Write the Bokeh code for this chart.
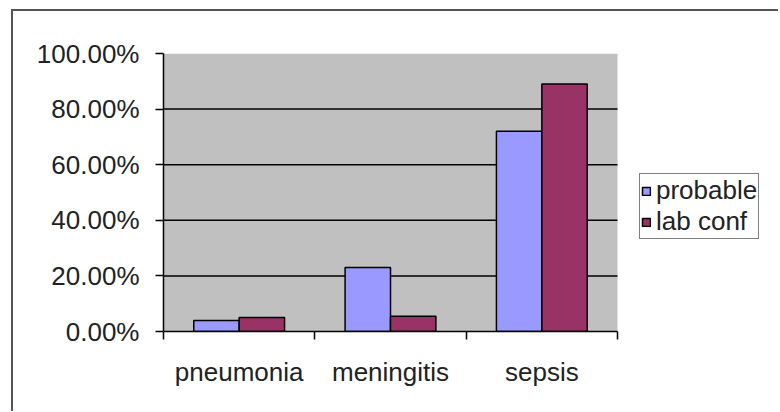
from bokeh.plotting import figure
from bokeh.models import (ColumnDataSource, FixedTicker, NumeralTickFormatter,
                          Legend, LegendItem, Range1d)
from bokeh.embed import file_html
from bokeh.resources import INLINE

categories = ["pneumonia", "meningitis", "sepsis"]
probable = [0.04, 0.23, 0.72]
lab_conf = [0.05, 0.055, 0.89]
series_names = ["probable", "lab conf"]
colors = ["#9999FF", "#993366"]
y_ticks = [0.0, 0.2, 0.4, 0.6, 0.8, 1.0]
grid_ticks = [0.2, 0.4, 0.6, 0.8]

FONT = "Liberation Sans"
FS = "26px"
BAR_W = 0.3
PLOT_W = 454      # px width of the gray plot area
FRAME_W = 615     # px width of the drawing frame (includes legend area)
n = len(categories)

idx = list(range(n))
src_p = ColumnDataSource(dict(x=[i + 0.5 - BAR_W / 2 for i in idx], top=probable))
src_l = ColumnDataSource(dict(x=[i + 0.5 + BAR_W / 2 for i in idx], top=lab_conf))

p = figure(frame_width=FRAME_W, frame_height=278, output_backend="svg", toolbar_location=None,
           x_range=Range1d(0, n * FRAME_W / PLOT_W), y_range=Range1d(0, 1),
           min_border_left=150, min_border_right=0,
           min_border_top=42, min_border_bottom=80)
p.margin = (9, 0, 0, 11)
p.styles = {"border-left": "2px solid #555555", "border-top": "2px solid #555555"}

p.background_fill_color = "white"
p.border_fill_color = "white"
p.outline_line_color = None
p.xgrid.visible = False
p.ygrid.visible = False

# gray plot area and grid lines
p.quad(left=[0], right=[n], bottom=[0], top=[1], fill_color="#C0C0C0", line_color=None)
p.segment(x0=[0] * len(grid_ticks), x1=[n] * len(grid_ticks), y0=grid_ticks, y1=grid_ticks,
          line_color="black", line_width=1.5)

r1 = p.vbar(x="x", top="top", width=BAR_W, bottom=0, source=src_p,
            fill_color=colors[0], line_color="black", line_width=1.5)
r2 = p.vbar(x="x", top="top", width=BAR_W, bottom=0, source=src_l,
            fill_color=colors[1], line_color="black", line_width=1.5)

# y axis
ya = p.yaxis[0]
ya.ticker = FixedTicker(ticks=y_ticks)
ya.formatter = NumeralTickFormatter(format="0.00%")
ya.axis_line_color = "black"
ya.axis_line_width = 1.5
ya.major_tick_line_color = "black"
ya.major_tick_line_width = 1.5
ya.major_tick_out = 8
ya.major_tick_in = 0
ya.minor_tick_line_color = None
ya.major_label_text_font = FONT
ya.major_label_text_font_size = FS
ya.major_label_text_color = "#222222"
ya.major_label_standoff = 16

# x axis
xa = p.xaxis[0]
xa.bounds = (0, n)
xa.ticker = FixedTicker(ticks=[i + 0.5 for i in idx], minor_ticks=list(range(n + 1)))
xa.major_label_overrides = {i + 0.5: c for i, c in zip(idx, categories)}
xa.axis_line_color = "black"
xa.axis_line_width = 1.5
xa.major_tick_line_color = None
xa.major_tick_out = 0
xa.major_tick_in = 0
xa.minor_tick_line_color = "black"
xa.minor_tick_line_width = 1.5
xa.minor_tick_out = 8
xa.minor_tick_in = 0
xa.major_label_text_font = FONT
xa.major_label_text_font_size = FS
xa.major_label_text_color = "#222222"
xa.major_label_standoff = 17

legend = Legend(items=[LegendItem(label=series_names[0], renderers=[r1]),
                       LegendItem(label=series_names[1], renderers=[r2])],
                location=(476, 92), orientation="vertical")
legend.label_text_font = FONT
legend.label_text_font_size = FS
legend.label_text_color = "#222222"
legend.glyph_width = 10
legend.glyph_height = 10
legend.label_standoff = 5
legend.spacing = 0
legend.padding = 1
legend.margin = 0
legend.label_height = 20
legend.border_line_color = "black"
legend.border_line_width = 1.5
legend.background_fill_color = "white"
legend.background_fill_alpha = 1
p.add_layout(legend, "center")

open("out.html", "w").write(file_html(p, INLINE))
